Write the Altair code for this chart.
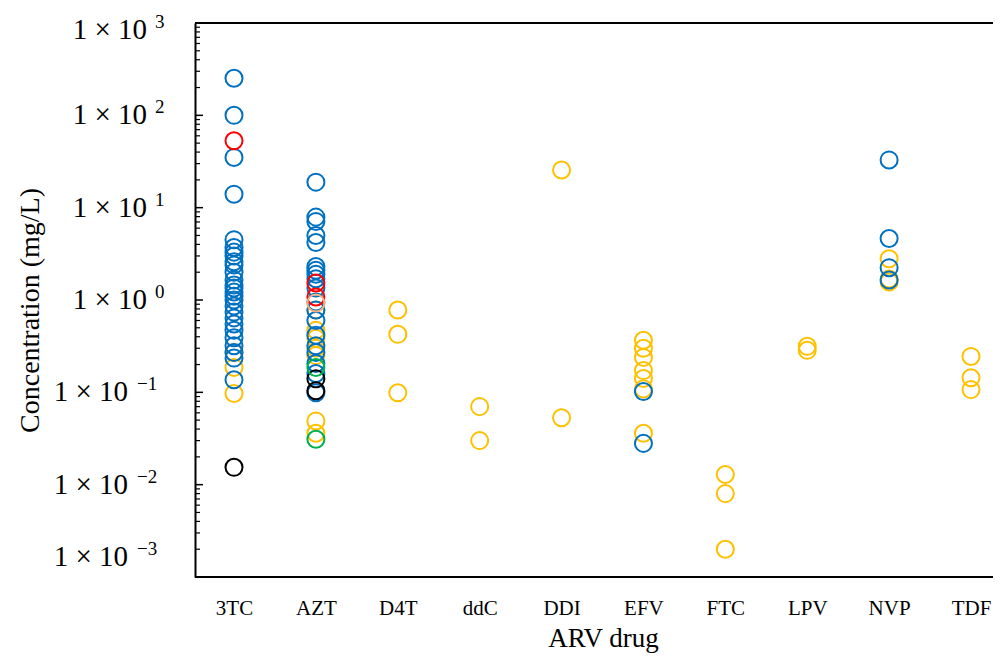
import altair as alt
import pandas as pd

# ---------------- data ----------------
drugs = ["3TC", "AZT", "D4T", "ddC", "DDI", "EFV", "FTC", "LPV", "NVP", "TDF"]

# yellow series
yellow_drug = ["3TC", "3TC", "3TC",
               "AZT", "AZT", "AZT", "AZT", "AZT", "AZT", "AZT",
               "D4T", "D4T", "D4T",
               "ddC", "ddC",
               "DDI", "DDI",
               "EFV", "EFV", "EFV", "EFV", "EFV", "EFV", "EFV",
               "FTC", "FTC", "FTC",
               "LPV", "LPV",
               "NVP", "NVP", "NVP",
               "TDF", "TDF", "TDF"]
yellow_conc = [0.27, 0.186, 0.097,
               0.78, 0.47, 0.385, 0.30, 0.25, 0.049, 0.036,
               0.78, 0.425, 0.099,
               0.070, 0.030,
               25.6, 0.053,
               0.366, 0.30, 0.239, 0.172, 0.141, 0.109, 0.036,
               0.0129, 0.0080, 0.0020,
               0.315, 0.285,
               2.8, 1.69, 1.57,
               0.245, 0.144, 0.107]

# blue series
blue_drug = ["3TC"] * 27 + ["AZT"] * 19 + ["EFV"] * 2 + ["NVP"] * 4
blue_conc = [252, 100, 35, 14, 4.5, 3.7, 3.3, 3.0, 2.6, 2.4, 2.0, 1.65, 1.45,
             1.35, 1.22, 1.1, 1.0, 0.86, 0.74, 0.64, 0.55, 0.47, 0.39, 0.32,
             0.27, 0.235, 0.137,
             18.9, 7.9, 7.1, 5.0, 4.2, 2.3, 2.1, 1.9, 1.7, 1.35, 0.95, 0.78,
             0.6, 0.415, 0.32, 0.27, 0.205, 0.16, 0.099,
             0.102, 0.028,
             32.9, 4.63, 2.24, 1.65]

# other series
red_drug = ["3TC", "AZT", "AZT"]
red_conc = [53, 1.53, 1.08]
peach_drug = ["AZT"]
peach_conc = [0.93]
black_drug = ["3TC", "AZT", "AZT"]
black_conc = [0.0154, 0.14, 0.104]
green_drug = ["AZT", "AZT"]
green_conc = [0.186, 0.031]

groups = ["yellow", "blue", "red", "peach", "black", "green"]
group_colors = ["#FFC000", "#0070C0", "#FF0000", "#F4B183", "#000000", "#00B050"]

# y axis ticks
major_ticks = [1e-3, 1e-2, 1e-1, 1e0, 1e1, 1e2, 1e3]
exponents = ["−3", "−2", "−1", "0", "1", "2", "3"]
minor_ticks = [m * 10.0 ** k for k in range(-3, 3) for m in range(2, 10)]

# ---------------- build tables ----------------
rows = []
for g, dl, cl in [("yellow", yellow_drug, yellow_conc),
                  ("blue", blue_drug, blue_conc),
                  ("red", red_drug, red_conc),
                  ("peach", peach_drug, peach_conc),
                  ("black", black_drug, black_conc),
                  ("green", green_drug, green_conc)]:
    for d, c in zip(dl, cl):
        rows.append({"drug": d, "conc": c, "group": g})
df = pd.DataFrame(rows)

ticks_df = pd.DataFrame({"v": major_ticks, "exp": exponents,
                         "neg": [e.startswith("−") for e in exponents]})
minor_df = pd.DataFrame({"v": minor_ticks})
one = pd.DataFrame({"a": [0]})

W, H = 798, 554
FONT = "Liberation Serif"
yscale = alt.Scale(type="log", domain=[0.001, 1000], nice=False)

points = alt.Chart(df).mark_point(
    shape="circle", filled=False, size=290, strokeWidth=2, opacity=1
).encode(
    x=alt.X("drug:N", sort=drugs,
            scale=alt.Scale(domain=drugs, range=[39, 776], padding=0),
            axis=alt.Axis(title="ARV drug", labelAngle=0, ticks=False, tickSize=0,
                          domain=False, labelFont=FONT, labelFontSize=21,
                          labelColor="black", labelPadding=20,
                          titleFont=FONT, titleFontSize=27, titleFontWeight="normal",
                          titleColor="black", titleX=408, titleY=61,
                          titleBaseline="middle", titleAlign="center")),
    y=alt.Y("conc:Q", scale=yscale,
            axis=alt.Axis(title="Concentration (mg/L)", labels=False, ticks=False,
                          tickSize=0, domain=True, domainColor="black",
                          domainWidth=2, grid=False,
                          titleFont=FONT, titleFontSize=28, titleFontWeight="normal",
                          titleColor="black", titleX=-165, titleY=287,
                          titleBaseline="middle", titleAlign="center")),
    color=alt.Color("group:N", scale=alt.Scale(domain=groups, range=group_colors),
                    legend=None),
)

major_rules = alt.Chart(ticks_df).mark_rule(color="black", strokeWidth=1.5).encode(
    y=alt.Y("v:Q", scale=yscale), x=alt.value(0), x2=alt.value(8))
minor_rules = alt.Chart(minor_df).mark_rule(color="black", strokeWidth=1.2).encode(
    y=alt.Y("v:Q", scale=yscale), x=alt.value(0), x2=alt.value(5))

top_line = alt.Chart(one).mark_rule(color="black", strokeWidth=2).encode(
    x=alt.value(0), x2=alt.value(W), y=alt.value(0))
bottom_line = alt.Chart(one).mark_rule(color="black", strokeWidth=2).encode(
    x=alt.value(0), x2=alt.value(W), y=alt.value(H))


def label_layers(filt, base_x, sup_x, shift):
    base = alt.Chart(ticks_df).transform_filter(filt).mark_text(
        align="right", baseline="middle", font=FONT, fontSize=29, color="black",
        dy=shift
    ).encode(y=alt.Y("v:Q", scale=yscale), x=alt.value(base_x),
             text=alt.value("1 × 10"))
    sup = alt.Chart(ticks_df).transform_filter(filt).mark_text(
        align="left", baseline="middle", font=FONT, fontSize=19, color="black",
        dy=shift - 8
    ).encode(y=alt.Y("v:Q", scale=yscale), x=alt.value(sup_x), text="exp:N")
    return [base, sup]


labels = []
labels += label_layers("datum.v > 500", -48, -40, 7)
labels += label_layers("!datum.neg && datum.v < 500", -48, -40, 0)
labels += label_layers("datum.neg && datum.v > 0.005", -67, -58, 0)
labels += label_layers("datum.v < 0.005", -67, -58, -20)

chart = alt.layer(
    minor_rules, major_rules, top_line, bottom_line, *labels, points
).properties(
    width=W, height=H,
    autosize=alt.AutoSizeParams(type="none"),
    padding={"left": 187, "top": 15, "right": 0, "bottom": 76},
).configure_view(stroke=None).configure_axis(grid=False)

chart.save("out.html", embed_options={"renderer": "svg", "actions": False})
